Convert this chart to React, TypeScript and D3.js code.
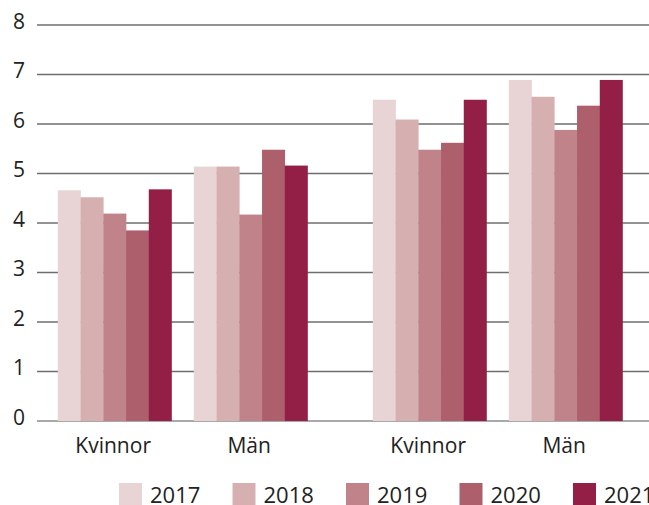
import React from 'react';
import { scaleBand, scaleLinear } from 'd3';

const years = ['2017', '2018', '2019', '2020', '2021'];
const pairs = ['A', 'B'];
const genders = ['Kvinnor', 'Män'];
// values per pair, per gender, per year
const pairAKvinnor = [4.66, 4.52, 4.19, 3.85, 4.68];
const pairAMan = [5.14, 5.14, 4.17, 5.48, 5.16];
const pairBKvinnor = [6.49, 6.09, 5.48, 5.62, 6.49];
const pairBMan = [6.89, 6.55, 5.88, 6.37, 6.89];
const yTicks = [0, 1, 2, 3, 4, 5, 6, 7, 8];
const colors = ['#e8d3d5', '#d6afb0', '#c0838a', '#ae5f6c', '#941f46'];

const groups = [
  { pair: 'A', gender: 'Kvinnor', values: pairAKvinnor },
  { pair: 'A', gender: 'Män', values: pairAMan },
  { pair: 'B', gender: 'Kvinnor', values: pairBKvinnor },
  { pair: 'B', gender: 'Män', values: pairBMan },
];

const W = 649;
const H = 505;
const left = 37;
const right = 649;
const top = 25;
const bottom = 421;
const font = '"Open Sans", "Noto Sans", sans-serif';

export default function App() {
  const y = scaleLinear().domain([0, 8]).range([bottom, top]);
  const x0 = scaleBand()
    .domain(pairs)
    .range([left, right])
    .paddingInner(0.2073)
    .paddingOuter(0.0751)
    .align(0.44);
  const x1 = scaleBand().domain(genders).range([0, x0.bandwidth()]).paddingInner(0.164);
  const x2 = scaleBand().domain(years).range([0, x1.bandwidth()]);

  return (
    <svg width={W} height={H} style={{ position: 'absolute', left: 0, top: 0 }}>
      <rect width={W} height={H} fill="#fff" />
      {yTicks.map((t) => (
        <g key={t}>
          <line
            x1={left}
            x2={right}
            y1={y(t)}
            y2={y(t)}
            stroke={t === 0 ? '#8c8c8c' : '#6e6e6e'}
            strokeWidth={t === 0 ? 1.6 : 1.3}
          />
          <text x={25} y={y(t) + 3.5} textAnchor="end" fontFamily={font} fontSize={21} fill="#222">
            {t}
          </text>
        </g>
      ))}
      {groups.map((g, gi) => {
        const gx = (x0(g.pair) ?? 0) + (x1(g.gender) ?? 0);
        return (
          <g key={gi}>
            {g.values.map((v, i) => (
              <rect
                key={i}
                x={gx + (x2(years[i]) ?? 0)}
                y={y(v)}
                width={x2.bandwidth() + 0.3}
                height={bottom - y(v)}
                fill={colors[i]}
              />
            ))}
            <text
              x={gx + x1.bandwidth() / 2 - 1.5}
              y={453}
              textAnchor="middle"
              fontFamily={font}
              fontSize={21}
              fill="#222"
            >
              {g.gender}
            </text>
          </g>
        );
      })}
      {years.map((yr, i) => (
        <g key={yr} transform={`translate(${119 + i * 113.5},483)`}>
          <rect width={23} height={23} fill={colors[i]} />
          <text x={31} y={19.5} fontFamily={font} fontSize={22} fill="#222">
            {yr}
          </text>
        </g>
      ))}
    </svg>
  );
}
